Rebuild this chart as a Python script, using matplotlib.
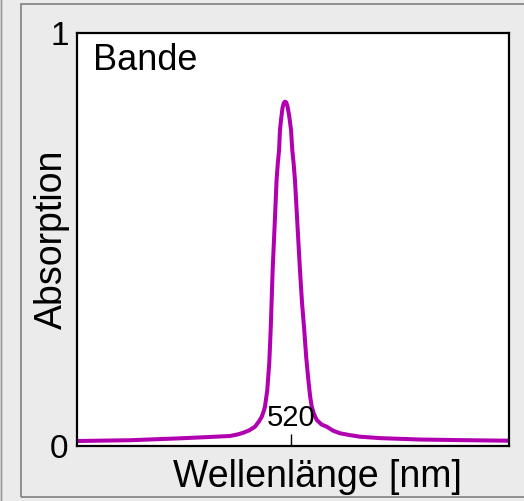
import matplotlib
matplotlib.use("Agg")
import matplotlib.pyplot as plt
import matplotlib.transforms as mtransforms
from matplotlib.patches import Rectangle

plt.rcParams['font.family'] = ['Liberation Sans', 'DejaVu Sans']

# values
wavelength = [400.0, 430.0, 457.7, 470.0, 485.7, 490.0, 493.2, 496.5, 499.7,
              502.0, 503.5, 504.5, 505.3, 506.6, 507.7, 508.5, 509.6, 510.9,
              511.8, 512.5, 513.2, 513.7, 514.3, 515.1, 515.8, 516.5, 517.2,
              517.9, 518.8, 519.3, 519.9, 520.6, 521.4, 522.1, 523.5, 524.9,
              526.0, 527.3, 528.4, 529.6, 530.6, 531.5, 532.8, 534.3, 537.0,
              539.9, 543.5, 547.3, 552.0, 558.5, 570.0, 592.1, 615.0, 642.0]
absorption = [0.0121, 0.0140, 0.0186, 0.0210, 0.0242, 0.0280, 0.0322, 0.0380,
              0.0467, 0.0600, 0.0709, 0.0830, 0.0952, 0.1356, 0.2010, 0.2809,
              0.4262, 0.5520, 0.6441, 0.6850, 0.7167, 0.7651, 0.7900, 0.8180,
              0.8300, 0.8337, 0.8320, 0.8230, 0.8010, 0.7850, 0.7651, 0.7167,
              0.6820, 0.6441, 0.5350, 0.4262, 0.3500, 0.2809, 0.2150, 0.1598,
              0.1200, 0.0952, 0.0770, 0.0630, 0.0520, 0.0467, 0.0370, 0.0308,
              0.0270, 0.0225, 0.0190, 0.0157, 0.0142, 0.0128]
y_ticks = [0, 1]
x_mark = 520

W, H = 524, 501
fig = plt.figure(figsize=(W / 100, H / 100), dpi=100, facecolor='#ebebeb')

# outer frame
fig.patches.append(Rectangle((21 / W, 4 / H), 510 / W, 493 / H, transform=fig.transFigure,
                             fill=False, edgecolor='#808080', linewidth=1.2))
fig.patches.append(Rectangle((1 / W, -0.01), 0.0, 1.02, transform=fig.transFigure,
                             fill=False, edgecolor='#9a9a9a', linewidth=1.0))

ax = fig.add_axes([77 / W, 55 / H, 432 / W, 413 / H])
ax.set_facecolor('white')
ax.plot(wavelength, absorption, color='#b000b0', linewidth=2.9,
        solid_joinstyle='round', solid_capstyle='butt')

ax.set_xlim(400, 642)
ax.set_ylim(0, 1)
for s in ax.spines.values():
    s.set_linewidth(1.6)
    s.set_color('black')

ax.set_yticks(y_ticks)
ax.set_yticklabels([str(v) for v in y_ticks], fontsize=24)
ax.tick_params(axis='y', length=0, pad=6)
ax.set_xticks([x_mark])
ax.set_xticklabels([''])
ax.tick_params(axis='x', direction='in', length=8.5, width=1, color='black')

trans = mtransforms.blended_transform_factory(ax.transData, ax.transAxes)
ax.text(x_mark, 0.034, str(x_mark), transform=trans, ha='center', va='bottom', fontsize=21)

ax.text(0.038, 0.910, 'Bande', transform=ax.transAxes, ha='left', va='baseline', fontsize=26)

fig.text(317 / W, 14 / H, 'Wellenlänge [nm]', ha='center', va='baseline', fontsize=27)
fig.text(52 / W, (H - 239) / H, 'Absorption', ha='center', va='center', rotation=90, fontsize=27)

fig.savefig('out.png', dpi=100, facecolor=fig.get_facecolor())
